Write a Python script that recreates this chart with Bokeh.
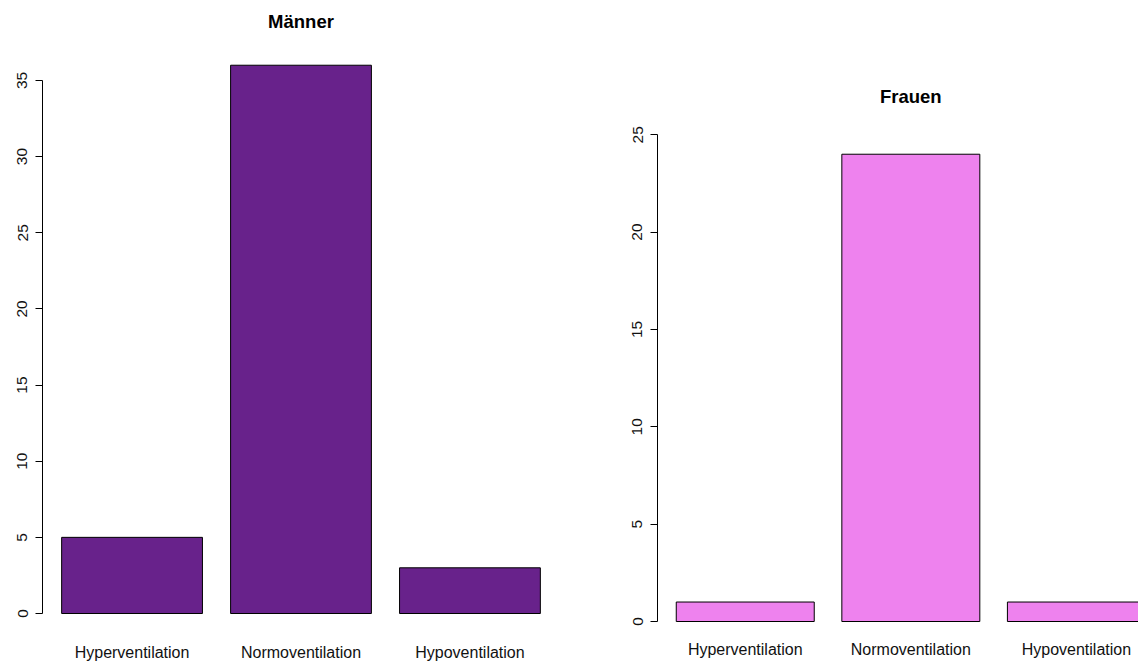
from bokeh.plotting import figure
from bokeh.layouts import row
from bokeh.models import Range1d, FixedTicker, Label
from bokeh.embed import file_html
from bokeh.resources import INLINE

# Counts of breathing pattern by sex
categories = ["Hyperventilation", "Normoventilation", "Hypoventilation"]
maenner_counts = [5, 36, 3]
frauen_counts = [1, 24, 1]
maenner_ticks = [0, 5, 10, 15, 20, 25, 30, 35]
frauen_ticks = [0, 5, 10, 15, 20, 25]

# bar centres as in a base-R barplot (width 1, space 0.2)
centers = [0.2 * (i + 1) + i + 0.5 for i in range(len(categories))]

FONT = "Liberation Sans"
HEIGHT = 663
FRAME_BOTTOM = 637  # pixel row of the lower frame edge (shared by both panels)


def bar_panel(title, title_y, counts, ticks, color, width, zero_px, px_per_unit,
              x_range, border_left, border_right, cat_standoff):
    # y range chosen so that 0 sits at zero_px with the given scale, frame spans full height
    y_start = -(FRAME_BOTTOM - zero_px) / px_per_unit
    y_end = zero_px / px_per_unit
    p = figure(width=width, height=HEIGHT, output_backend="svg", toolbar_location=None,
               x_range=x_range, y_range=Range1d(y_start, y_end),
               min_border_left=border_left, min_border_right=border_right,
               min_border_top=0, min_border_bottom=HEIGHT - FRAME_BOTTOM)

    p.vbar(x=centers, top=counts, bottom=0, width=1.0,
           fill_color=color, line_color="black", line_width=1)

    p.add_layout(Label(x=centers[1], y=title_y, text=title, text_align="center",
                       text_baseline="alphabetic", text_font=FONT,
                       text_font_size="18.5px", text_font_style="bold",
                       text_color="black"))

    p.grid.visible = False
    p.outline_line_color = None
    p.background_fill_color = "white"
    p.border_fill_color = "white"

    ya = p.yaxis[0]
    ya.ticker = FixedTicker(ticks=ticks)
    ya.bounds = (ticks[0], ticks[-1])
    ya.axis_line_color = "black"
    ya.major_tick_line_color = "black"
    ya.major_tick_out = 7
    ya.major_tick_in = 0
    ya.minor_tick_line_color = None
    ya.major_label_orientation = "vertical"
    ya.major_label_standoff = 8
    ya.major_label_text_font = FONT
    ya.major_label_text_font_size = "15.5px"
    ya.major_label_text_color = "#111111"

    xa = p.xaxis[0]
    xa.ticker = FixedTicker(ticks=centers)
    xa.major_label_overrides = {c: lab for c, lab in zip(centers, categories)}
    xa.axis_line_color = None
    xa.major_tick_line_color = None
    xa.minor_tick_line_color = None
    xa.major_tick_out = 0
    xa.major_label_standoff = cat_standoff
    xa.major_label_text_font = FONT
    xa.major_label_text_font_size = "16px"
    xa.major_label_text_line_height = 1.0
    xa.major_label_text_color = "#111111"
    return p


p1 = bar_panel("Männer", 38.87, maenner_counts, maenner_ticks, "#68228B", 600,
               613.0, 15.23, Range1d(0.064, 3.736), 42, 41, 6)
p2 = bar_panel("Frauen", 26.95, frauen_counts, frauen_ticks, "#EE82EE", 538,
               621.0, 19.47, Range1d(0.064, 3.55), 57, 0, 3)

layout = row(p1, p2)
open("out.html", "w").write(file_html(layout, INLINE))
